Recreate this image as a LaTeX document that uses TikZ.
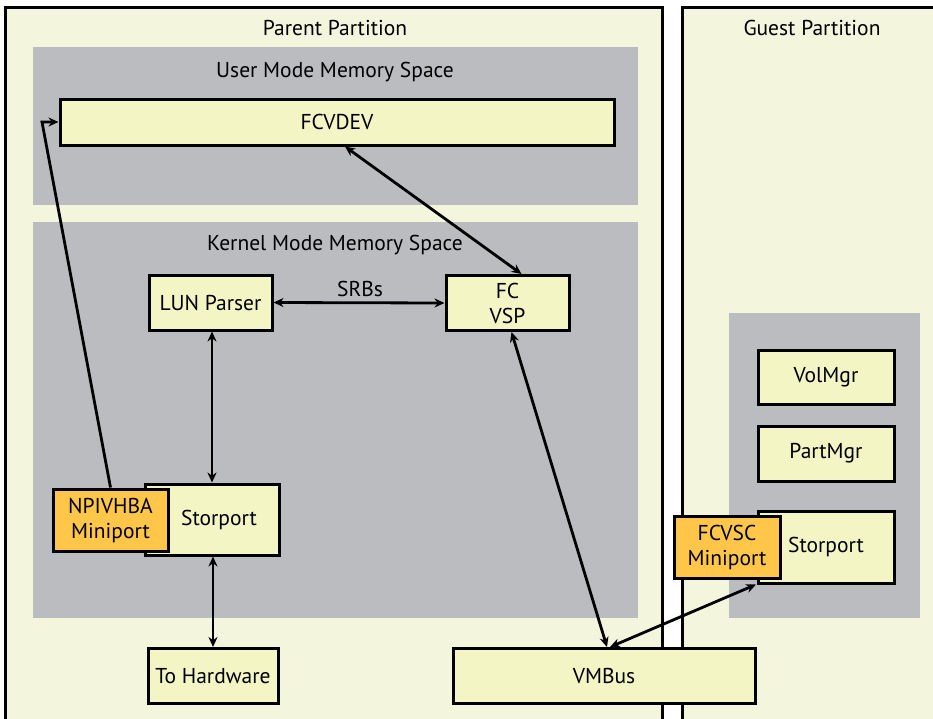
\documentclass[tikz,border=0pt]{standalone}
\usepackage{fontspec}
\setmainfont{PT Sans}
\usetikzlibrary{arrows.meta,calc}
\definecolor{partfill}{RGB}{243,245,220}
\definecolor{memgray}{RGB}{187,188,192}
\definecolor{boxfill}{RGB}{244,245,197}
\definecolor{orangefill}{RGB}{255,198,74}
\tikzset{
  partition/.style={draw=black, line width=3pt, fill=partfill},
  memspace/.style={fill=memgray, draw=none},
  compbox/.style={draw=black, line width=3pt, fill=boxfill, inner sep=0pt, align=center, font=\fontsize{21.5}{25}\selectfont},
  minibox/.style={compbox, fill=orangefill},
  title/.style={font=\fontsize{21.5}{25}\selectfont, inner sep=0pt},
  biarrow/.style={line width=2.8pt, {Stealth[length=10pt,width=9pt]}-{Stealth[length=10pt,width=9pt]}},
  onearrow/.style={line width=2.8pt, -{Stealth[length=10pt,width=9pt]}}
}
\begin{document}
\begin{tikzpicture}[x=1pt,y=-1pt]
\useasboundingbox (0,0) rectangle (933,718);
\fill[white] (0,0) rectangle (933,718);
% partitions
\draw[partition] (5,7) rectangle (662,730);
\draw[partition] (682,7) rectangle (945,730);
\node[title] (ptitle) at (335,28) {Parent Partition};
\node[title] (gtitle) at (812,28) {Guest Partition};
% memory spaces
\fill[memspace] (33,47) rectangle (638,205);
\fill[memspace] (33,222) rectangle (638,618);
\fill[memspace] (729,313) rectangle (920,618);
\node[title] (umtitle) at (335,72) {User Mode Memory Space};
\node[title] (kmtitle) at (335,245) {Kernel Mode Memory Space};
% components
\node[compbox, minimum width=554pt, minimum height=46pt] (fcvdev) at (337,122) {FCVDEV};
\node[compbox, minimum width=123pt, minimum height=55pt] (lun) at (210.5,302.5) {LUN Parser};
\node[compbox, minimum width=123pt, minimum height=55pt] (fc) at (507.5,303) {FC\\VSP};
\node[compbox, minimum width=134pt, minimum height=71pt, label={[title, xshift=7pt]center:Storport}] (storp) at (212,519.5) {};
\node[minibox, minimum width=115pt, minimum height=62pt] (npiv) at (110.5,520) {NPIVHBA\\Miniport};
\node[compbox, minimum width=130pt, minimum height=55pt] (tohw) at (213,676) {To Hardware};
\node[compbox, minimum width=302pt, minimum height=55pt] (vmbus) at (604,676) {VMBus};
\node[compbox, minimum width=136pt, minimum height=54pt] (volmgr) at (826,377) {VolMgr};
\node[compbox, minimum width=136pt, minimum height=55pt] (partmgr) at (826,453.5) {PartMgr};
\node[compbox, minimum width=136pt, minimum height=72pt] (storg) at (826,547) {Storport};
\node[minibox, minimum width=106pt, minimum height=62pt] (fcvsc) at (727,547) {FCVSC\\Miniport};
% connectors
\draw[biarrow] ([xshift=8pt]fcvdev.south) -- ([xshift=14pt]fc.north);
\draw[biarrow] (lun.east) -- (fc.west);
\node[title] (srbs) at (360,289) {SRBs};
\draw[biarrow] ([xshift=1.5pt]lun.south) -- ([xshift=1.5pt]lun.south |- storp.north);
\draw[biarrow] ([xshift=1pt]storp.south) -- ([xshift=1pt]storp.south |- tohw.north);
\coordinate (bend) at (42,122);
\draw[onearrow] (npiv.north) -- (bend) -- (fcvdev.west);
\draw[biarrow] ([xshift=4pt]fc.south) -- ([xshift=3pt]vmbus.north);
\draw[biarrow] ([xshift=6pt]vmbus.north) -- ([xshift=-70pt]storg.south);
\end{tikzpicture}
\end{document}
